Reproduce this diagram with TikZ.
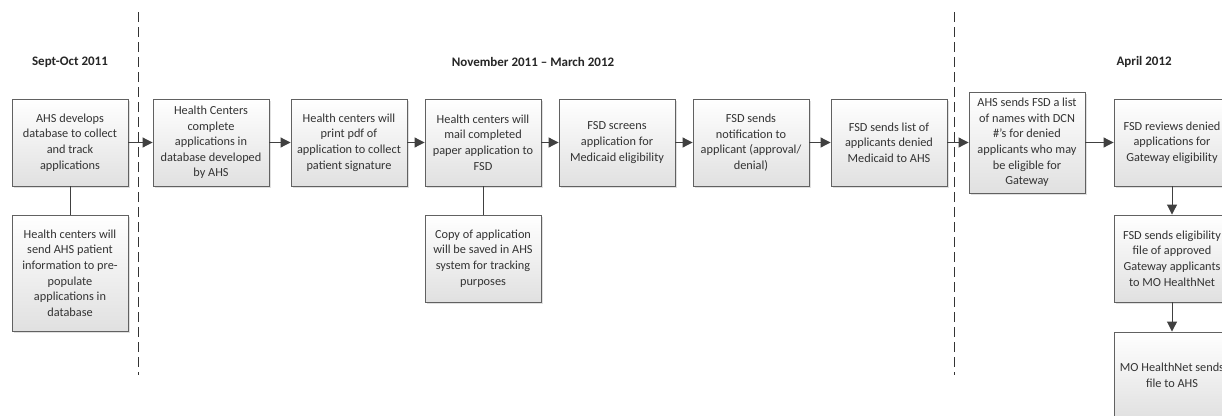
\documentclass[tikz,border=0pt]{standalone}
\usepackage{fontspec}
\setmainfont{Carlito}
\usetikzlibrary{shadows,arrows.meta}
\tikzset{
  box/.style={draw=black!62, line width=0.9pt, top color=white, bottom color=black!12,
    minimum width=116pt, minimum height=87pt, align=center, inner sep=1pt,
    font=\fontsize{12.3}{15.6}\selectfont, text=black!80,
    drop shadow={shadow xshift=2pt, shadow yshift=-2pt, opacity=0.12, fill=black}},
  arr/.style={draw=black!75, line width=1pt, -{Triangle[length=10pt,width=10pt]}},
  link/.style={draw=black!75, line width=1pt},
  period/.style={font=\fontsize{13}{15}\selectfont\bfseries, text=black!85},
  divider/.style={draw=black!80, line width=0.9pt, dash pattern=on 10pt off 5pt}
}
\begin{document}
\begin{tikzpicture}[x=1pt,y=-1pt]
\useasboundingbox (0,0) rectangle (1222,415);
\clip (0,0) rectangle (1222,415);
\fill[white] (0,0) rectangle (1222,415);

\coordinate (d1t) at (138,12); \coordinate (d1b) at (138,375);
\coordinate (d2t) at (954,12); \coordinate (d2b) at (954,375);
\draw[divider] (d1t) -- (d1b);
\draw[divider] (d2t) -- (d2b);

\node[period] (p1) at (70,62) {Sept-Oct 2011};
\node[period] (p2) at (533,62) {November 2011 -- March 2012};
\node[period, anchor=west] (p3) at (1113,62) {April 2012};

\node[box] (b1) at (70,142.5) {AHS develops\\database to collect\\and track\\applications};
\node[box, minimum height=116pt] (b1b) at (70,273) {Health centers will\\send AHS patient\\information to pre-\\populate\\applications in\\database};
\node[box] (b2) at (211,142.5) {Health Centers\\complete\\applications in\\database developed\\by AHS};
\node[box] (b3) at (349,142.5) {Health centers will\\print pdf of\\application to collect\\patient signature};
\node[box] (b4) at (483,142.5) {Health centers will\\mail completed\\paper application to\\FSD};
\node[box] (b4b) at (483,258.5) {Copy of application\\will be saved in AHS\\system for tracking\\purposes};
\node[box] (b5) at (617,142.5) {FSD screens\\application for\\Medicaid eligibility};
\node[box] (b6) at (751,142.5) {FSD sends\\notification to\\applicant (approval/\\denial)};
\node[box] (b7) at (889,142.5) {FSD sends list of\\applicants denied\\Medicaid to AHS};
\node[box, minimum height=101pt] (b8) at (1027,142.5) {AHS sends FSD a list\\of names with DCN\\\#’s for denied\\applicants who may\\be eligible for\\Gateway};
\node[box] (b9) at (1172,142.5) {FSD reviews denied\\applications for\\Gateway eligibility};
\node[box] (b10) at (1172,258.5) {FSD sends eligibility\\file of approved\\Gateway applicants\\to MO HealthNet};
\node[box] (b11) at (1172,375.5) {MO HealthNet sends\\file to AHS};

\draw[link] (b1) -- (b1b);
\draw[link] (b4) -- (b4b);
\draw[arr] (b1) -- (b2);
\draw[arr] (b2) -- (b3);
\draw[arr] (b3) -- (b4);
\draw[arr] (b4) -- (b5);
\draw[arr] (b5) -- (b6);
\draw[arr] (b6) -- (b7);
\draw[arr] (b7) -- (b8);
\draw[arr] (b8) -- (b9);
\draw[arr] (b9) -- (b10);
\draw[arr] (b10) -- (b11);
\end{tikzpicture}
\end{document}
